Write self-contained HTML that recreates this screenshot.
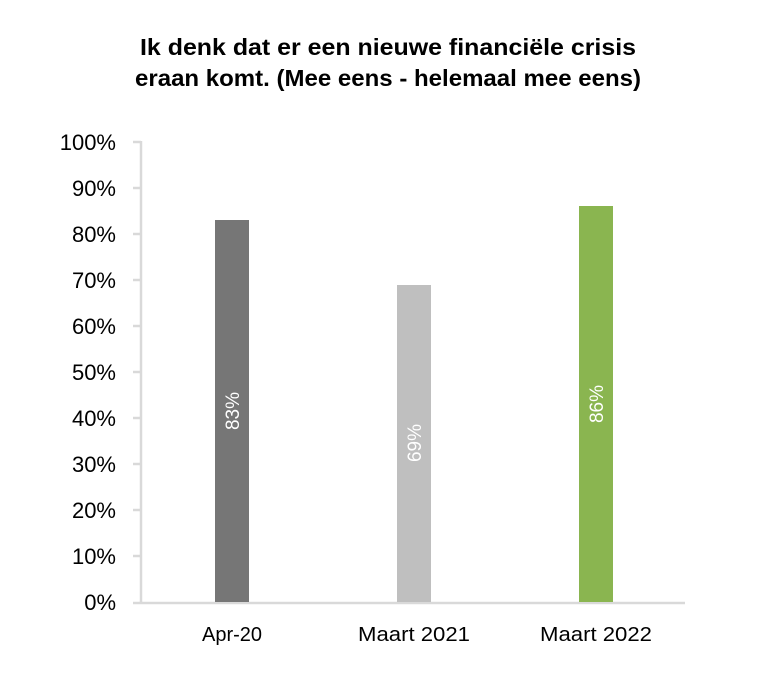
<!DOCTYPE html>
<html><head><style>body{margin:0;background:#fff}</style></head><body>
<svg width="776" height="691" xmlns="http://www.w3.org/2000/svg" font-family="'Liberation Sans', sans-serif">
<text x="388" y="55" text-anchor="middle" font-size="23" font-weight="bold" fill="#000" textLength="496" lengthAdjust="spacingAndGlyphs">Ik denk dat er een nieuwe financiële crisis</text>
<text x="388" y="86" text-anchor="middle" font-size="23" font-weight="bold" fill="#000" textLength="506" lengthAdjust="spacingAndGlyphs">eraan komt. (Mee eens - helemaal mee eens)</text>
<g stroke="#d9d9d9" stroke-width="2.5" fill="none">
<line x1="141" y1="141" x2="141" y2="603"/>
<line x1="133" y1="603" x2="685" y2="603"/>
<line x1="133" y1="142" x2="141" y2="142"/><line x1="133" y1="188" x2="141" y2="188"/>
<line x1="133" y1="234" x2="141" y2="234"/><line x1="133" y1="280" x2="141" y2="280"/>
<line x1="133" y1="326" x2="141" y2="326"/><line x1="133" y1="372" x2="141" y2="372"/>
<line x1="133" y1="418" x2="141" y2="418"/><line x1="133" y1="464" x2="141" y2="464"/>
<line x1="133" y1="510" x2="141" y2="510"/><line x1="133" y1="556" x2="141" y2="556"/>
</g>
<g font-size="22" fill="#000" text-anchor="end">
<text x="116" y="150">100%</text><text x="116" y="196">90%</text><text x="116" y="242">80%</text>
<text x="116" y="288">70%</text><text x="116" y="334">60%</text><text x="116" y="380">50%</text>
<text x="116" y="426">40%</text><text x="116" y="472">30%</text><text x="116" y="518">20%</text>
<text x="116" y="564">10%</text><text x="116" y="610">0%</text>
</g>
<rect x="215" y="220" width="34" height="382" fill="#767676"/>
<rect x="397" y="285" width="34" height="317" fill="#bfbfbf"/>
<rect x="579" y="206" width="34" height="396" fill="#8ab550"/>
<g font-size="19" fill="#fff" text-anchor="middle">
<text transform="translate(239,411) rotate(-90)">83%</text>
<text transform="translate(421,443) rotate(-90)">69%</text>
<text transform="translate(603,404) rotate(-90)">86%</text>
</g>
<g font-size="20" fill="#000" text-anchor="middle">
<text x="232" y="641">Apr-20</text><text x="414" y="641" textLength="112" lengthAdjust="spacingAndGlyphs">Maart 2021</text><text x="596" y="641" textLength="112" lengthAdjust="spacingAndGlyphs">Maart 2022</text>
</g>
</svg>
</body></html>
